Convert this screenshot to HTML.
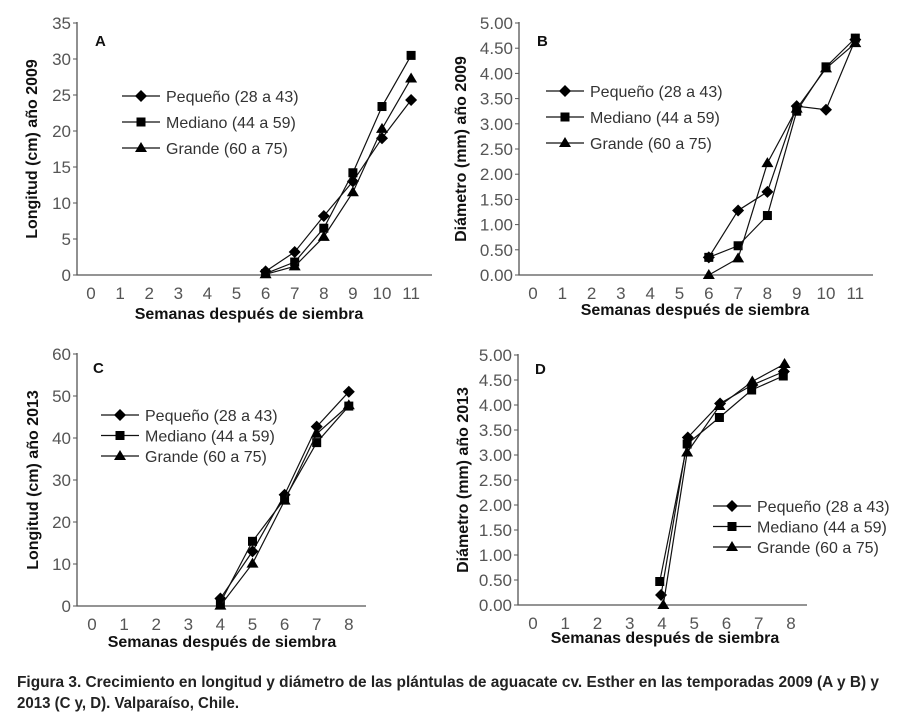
<!DOCTYPE html>
<html><head><meta charset="utf-8"><style>
body{margin:0;background:#fff;}
svg{display:block;font-family:"Liberation Sans",sans-serif;}
.tick{font-size:17px;fill:#555;}
.ttl{font-size:16px;font-weight:bold;fill:#111;}
.leg{font-size:16px;fill:#333;}
.pl{font-size:15px;font-weight:bold;fill:#111;}
</style></head><body>
<svg id="fig" width="900" height="726" viewBox="0 0 900 726">
<text x="17" y="687" textLength="862" lengthAdjust="spacingAndGlyphs" style="font-size:16px;font-weight:bold;fill:#222">Figura 3. Crecimiento en longitud y diámetro de las plántulas de aguacate cv. Esther en las temporadas 2009 (A y B) y</text>
<text x="17" y="708" textLength="222" lengthAdjust="spacingAndGlyphs" style="font-size:16px;font-weight:bold;fill:#222">2013 (C y, D). Valparaíso, Chile.</text>
</svg>
<script>
// ---- Panel A data ----
const weeksA = [6,7,8,9,10,11];
const pequenoA = [0.5,3.2,8.2,13.0,19.0,24.3];
const medianoA = [0.2,1.8,6.5,14.2,23.4,30.5];
const grandeA = [0.1,1.2,5.3,11.5,20.3,27.3];
const yTicksA = ["0","5","10","15","20","25","30","35"];
const yValsA = [0,5,10,15,20,25,30,35];
// ---- Panel B data ----
const weeksB = [6,7,8,9,10,11];
const pequenoB = [0.35,1.28,1.65,3.35,3.28,4.67];
const medianoB = [0.35,0.58,1.18,3.25,4.13,4.70];
const grandeB = [0.00,0.33,2.22,3.30,4.10,4.60];
const yTicksB = ["0.00","0.50","1.00","1.50","2.00","2.50","3.00","3.50","4.00","4.50","5.00"];
const yValsB = [0,0.5,1,1.5,2,2.5,3,3.5,4,4.5,5];
// ---- Panel C data ----
const weeksC = [4,5,6,7,8];
const pequenoC = [1.8,13.0,26.5,42.7,51.0];
const medianoC = [0.8,15.4,25.5,38.9,47.6];
const grandeC = [0.1,10.1,25.1,41.0,47.8];
const yTicksC = ["0","10","20","30","40","50","60"];
const yValsC = [0,10,20,30,40,50,60];
// ---- Panel D data ----
const weeksDp = [3.97,4.8,5.8,6.8,7.78];
const weeksDm = [3.93,4.78,5.78,6.78,7.76];
const weeksDg = [4.04,4.78,5.78,6.8,7.8];
const pequenoD = [0.20,3.35,4.03,4.40,4.67];
const medianoD = [0.47,3.22,3.75,4.30,4.58];
const grandeD = [0.00,3.05,3.98,4.47,4.82];
const yTicksD = yTicksB;
const yValsD = yValsB;
const xTicks11 = ["0","1","2","3","4","5","6","7","8","9","10","11"];
const xTicks8 = ["0","1","2","3","4","5","6","7","8"];
const legendLabels = ["Pequeño (28 a 43)","Mediano (44 a 59)","Grande (60 a 75)"];

const NS="http://www.w3.org/2000/svg";
const svg=document.getElementById('fig');
function mk(tag,attrs,parent,txt){const e=document.createElementNS(NS,tag);for(const k in attrs)e.setAttribute(k,attrs[k]);if(txt!==undefined)e.textContent=txt;(parent||svg).appendChild(e);return e;}
function marker(g,kind,x,y){
  let m;
  if(kind==='d'){m=mk('polygon',{points:`${x},${y-6} ${x+6},${y} ${x},${y+6} ${x-6},${y}`,fill:'#000'},g);}
  else if(kind==='s'){m=mk('rect',{x:x-4.5,y:y-4.5,width:9,height:9,fill:'#000'},g);}
  else {m=mk('polygon',{points:`${x},${y-6} ${x+6},${y+4} ${x-6},${y+4}`,fill:'#000'},g);}
  return m;
}
function panel(c){
  const g=mk('g',{});
  
  
  const yMax=c.yVals[c.yVals.length-1];
  const sy=v=>c.y0+(c.yTop-c.y0)*v/yMax;
  const sx=v=>c.x0+v*c.xStep;
  const ax=mk('path',{d:`M${c.ax},${c.yTop-1} V${c.y0} H${c.axEnd}`,stroke:'#555','stroke-width':1.3,fill:'none'},g);
  
  
  c.yVals.forEach((v,i)=>{
    mk('line',{x1:c.ax-4,x2:c.ax,y1:sy(v),y2:sy(v),stroke:'#555'},g);
    const t=mk('text',{x:c.ax-6,y:sy(v)+6,'text-anchor':'end',class:'tick'},g,c.yTicks[i]);
    
    
  });
  c.xTicks.forEach((s,i)=>{
    const t=mk('text',{x:sx(i),y:c.y0+24,'text-anchor':'middle',class:'tick'},g,s);
    
    
  });
  const xt=mk('text',{x:c.xtX,y:c.xtY,'text-anchor':'middle',class:'ttl'},g,'Semanas después de siembra');
  
  
  const yt=mk('text',{x:0,y:0,'text-anchor':'middle',class:'ttl',transform:`translate(${c.ytX},${(c.yTop+c.y0)/2}) rotate(-90)`},g,c.yTitle);
  
  
  const pl=mk('text',{x:c.plX,y:c.plY,class:'pl'},g,c.id);
  
  
  const kinds=['d','s','t'];
  c.series.forEach((s,k)=>{
    const sg=mk('g',{},g);
    
    
    const pts=s.y.map((v,i)=>`${sx(s.x[i])},${sy(v)}`).join(' ');
    mk('polyline',{points:pts,fill:'none',stroke:'#111','stroke-width':1.2},sg);
    s.y.forEach((v,i)=>{
      const m=marker(sg,kinds[k],sx(s.x[i]),sy(v));
      
      
    });
  });
  const lg=mk('g',{},g);
  
  
  legendLabels.forEach((lab,k)=>{
    const y=c.legY+k*c.legGap;
    const e=mk('g',{},lg);
    
    
    mk('line',{x1:c.legX,x2:c.legX+38,y1:y,y2:y,stroke:'#111','stroke-width':1.2},e);
    marker(e,kinds[k],c.legX+19,y);
    mk('text',{x:c.legX+44,y:y+6,class:'leg'},e,lab);
  });
}
panel({id:'A',ax:77,axEnd:432,y0:275,yTop:23,x0:91,xStep:29.1,yVals:yValsA,yTicks:yTicksA,xTicks:xTicks11,
  series:[{x:weeksA,y:pequenoA},{x:weeksA,y:medianoA},{x:weeksA,y:grandeA}],
  yTitle:'Longitud (cm) año 2009',ytX:37,xtX:249,xtY:319,plX:95,plY:46,legX:122,legY:96,legGap:26});
panel({id:'B',ax:519,axEnd:873,y0:275,yTop:23,x0:533,xStep:29.3,yVals:yValsB,yTicks:yTicksB,xTicks:xTicks11,
  series:[{x:weeksB,y:pequenoB},{x:weeksB,y:medianoB},{x:weeksB,y:grandeB}],
  yTitle:'Diámetro (mm) año 2009',ytX:466,xtX:695,xtY:315,plX:537,plY:46,legX:546,legY:91,legGap:26});
panel({id:'C',ax:77,axEnd:366,y0:606,yTop:354,x0:92,xStep:32.1,yVals:yValsC,yTicks:yTicksC,xTicks:xTicks8,
  series:[{x:weeksC,y:pequenoC},{x:weeksC,y:medianoC},{x:weeksC,y:grandeC}],
  yTitle:'Longitud (cm) año 2013',ytX:38,xtX:222,xtY:647,plX:93,plY:373,legX:101,legY:415,legGap:20.5});
panel({id:'D',ax:518,axEnd:807,y0:605,yTop:355,x0:533,xStep:32.25,yVals:yValsD,yTicks:yTicksD,xTicks:xTicks8,
  series:[{x:weeksDp,y:pequenoD},{x:weeksDm,y:medianoD},{x:weeksDg,y:grandeD}],
  yTitle:'Diámetro (mm) año 2013',ytX:468,xtX:665,xtY:643,plX:535,plY:374,legX:713,legY:506,legGap:20.5});
</script>
</body></html>
